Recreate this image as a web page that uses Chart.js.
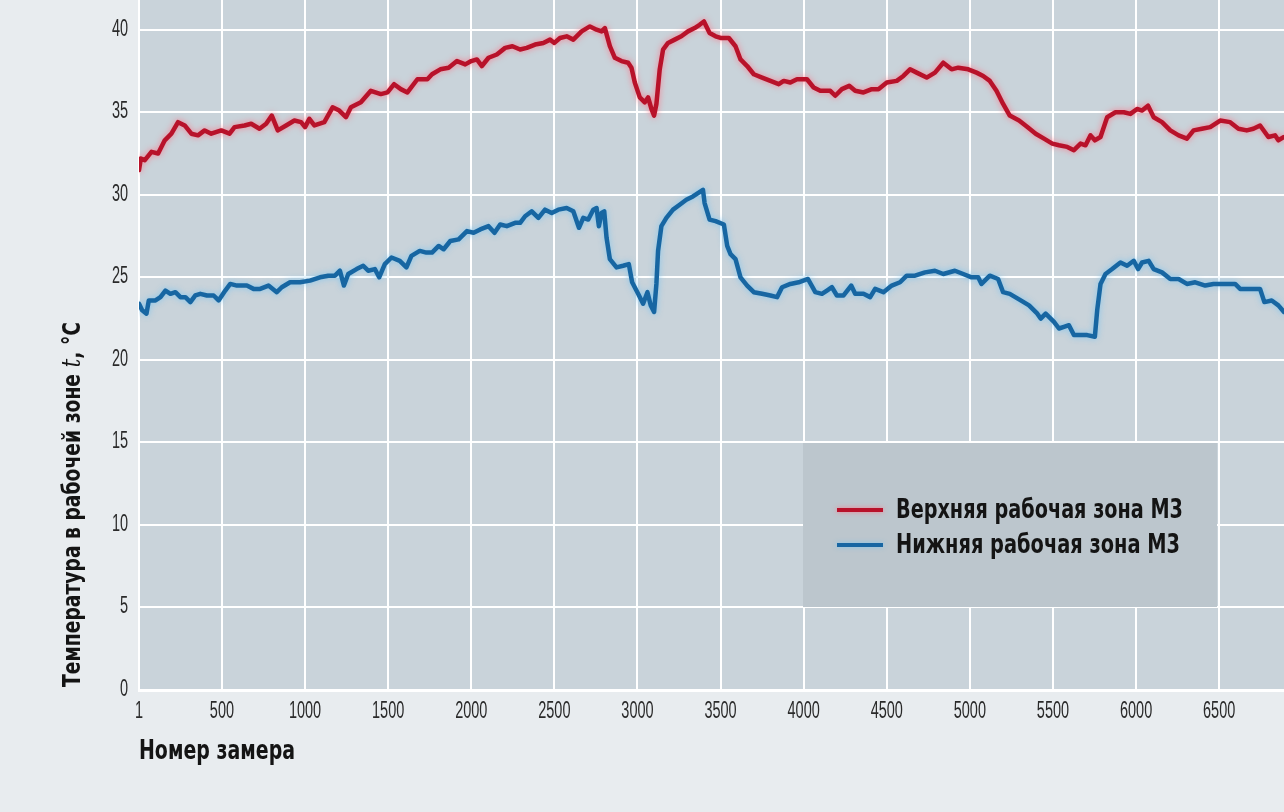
<!DOCTYPE html>
<html>
<head>
<meta charset="utf-8">
<script src="https://cdn.jsdelivr.net/npm/chart.js@4.4.1/dist/chart.umd.min.js"></script>
<style>
html,body{margin:0;padding:0;background:#e8ecef;}
canvas{display:block;}
</style>
</head>
<body>
<canvas id="c" width="1284" height="812"></canvas>
<script>
// ---- DATA ----
const seriesNames = ["Верхняя рабочая зона М3", "Нижняя рабочая зона М3"];
const xTickValues = [1, 500, 1000, 1500, 2000, 2500, 3000, 3500, 4000, 4500, 5000, 5500, 6000, 6500];
const yTickValues = [0, 5, 10, 15, 20, 25, 30, 35, 40];
const xAxisTitle = "Номер замера";
const yAxisTitleParts = ["Температура в рабочей зоне ", "t", ", °C"];

const upperX = [1,12,36,76,116,156,196,236,276,316,356,396,436,496,546,576,636,676,726,766,800,836,886,936,976,1000,1026,1056,1116,1166,1206,1246,1276,1336,1396,1456,1496,1536,1576,1616,1676,1736,1764,1814,1864,1914,1964,2000,2034,2064,2104,2154,2204,2248,2294,2334,2384,2434,2474,2500,2534,2574,2614,2664,2714,2754,2784,2804,2834,2864,2904,2944,2964,2984,3014,3044,3064,3084,3100,3114,3134,3154,3184,3224,3264,3304,3344,3374,3400,3434,3470,3500,3550,3590,3620,3660,3700,3750,3800,3850,3880,3920,3960,4020,4060,4100,4160,4190,4230,4274,4310,4360,4410,4450,4500,4560,4600,4640,4680,4740,4790,4840,4890,4930,4990,5040,5080,5120,5160,5200,5240,5296,5346,5396,5446,5496,5536,5586,5626,5666,5696,5726,5752,5786,5826,5876,5926,5966,6006,6036,6072,6106,6156,6206,6256,6306,6346,6396,6446,6506,6566,6616,6666,6706,6746,6796,6836,6856,6890];
const upperY = [31.5,32.2,32.1,32.6,32.5,33.3,33.7,34.4,34.2,33.7,33.6,33.9,33.7,33.9,33.7,34.1,34.2,34.3,34.0,34.3,34.8,33.9,34.2,34.5,34.4,34.1,34.6,34.2,34.4,35.3,35.1,34.7,35.3,35.6,36.3,36.1,36.2,36.7,36.4,36.2,37.0,37.0,37.3,37.6,37.7,38.1,37.9,38.1,38.2,37.8,38.3,38.5,38.9,39.0,38.8,38.9,39.1,39.2,39.4,39.2,39.5,39.6,39.4,39.9,40.2,40.0,39.9,40.1,39.0,38.3,38.1,38.0,37.7,36.8,35.9,35.6,35.9,35.2,34.8,35.5,37.6,38.8,39.2,39.4,39.6,39.9,40.1,40.3,40.5,39.8,39.6,39.5,39.5,39.0,38.2,37.8,37.3,37.1,36.9,36.7,36.9,36.8,37.0,37.0,36.5,36.3,36.3,36.0,36.4,36.6,36.3,36.2,36.4,36.4,36.8,36.9,37.2,37.6,37.4,37.1,37.4,38.0,37.6,37.7,37.6,37.4,37.2,36.9,36.3,35.5,34.8,34.5,34.1,33.7,33.4,33.1,33.0,32.9,32.7,33.1,33.0,33.6,33.3,33.5,34.7,35.0,35.0,34.9,35.2,35.1,35.4,34.7,34.4,33.9,33.6,33.4,33.9,34.0,34.1,34.5,34.4,34.0,33.9,34.0,34.2,33.5,33.6,33.3,33.5];

const lowerX = [1,20,46,60,100,130,160,190,220,250,280,310,340,370,410,450,480,520,550,590,650,690,730,780,830,860,910,970,1030,1090,1140,1180,1210,1234,1260,1310,1350,1380,1420,1446,1480,1520,1570,1610,1640,1690,1730,1764,1804,1834,1874,1924,1974,2014,2054,2104,2140,2174,2214,2264,2294,2324,2364,2404,2444,2484,2524,2574,2614,2648,2674,2704,2734,2754,2768,2784,2800,2814,2834,2874,2914,2948,2968,3004,3034,3060,3080,3100,3114,3124,3144,3174,3214,3254,3294,3334,3364,3394,3404,3434,3470,3520,3540,3560,3590,3620,3660,3700,3750,3800,3840,3870,3920,3970,4026,4070,4110,4140,4170,4200,4240,4286,4310,4360,4400,4430,4480,4530,4580,4620,4670,4730,4790,4840,4910,4960,5010,5050,5070,5120,5170,5200,5240,5306,5356,5406,5426,5456,5506,5536,5566,5596,5626,5666,5706,5752,5766,5786,5816,5856,5906,5946,5986,6012,6036,6076,6106,6156,6206,6256,6306,6356,6416,6466,6536,6596,6626,6686,6746,6772,6816,6856,6890];
const lowerY = [23.4,23.0,22.8,23.6,23.6,23.8,24.2,24.0,24.1,23.8,23.8,23.5,23.9,24.0,23.9,23.9,23.6,24.2,24.6,24.5,24.5,24.3,24.3,24.5,24.1,24.4,24.7,24.7,24.8,25.0,25.1,25.1,25.4,24.5,25.2,25.5,25.7,25.4,25.5,25.0,25.8,26.2,26.0,25.6,26.3,26.6,26.5,26.5,26.9,26.7,27.2,27.3,27.8,27.7,27.9,28.1,27.7,28.2,28.1,28.3,28.3,28.7,29.0,28.6,29.1,28.9,29.1,29.2,29.0,28.0,28.6,28.5,29.1,29.2,28.1,28.9,29.0,27.4,26.1,25.6,25.7,25.8,24.7,24.0,23.4,24.1,23.3,22.9,24.6,26.6,28.1,28.6,29.1,29.4,29.7,29.9,30.1,30.3,29.5,28.5,28.4,28.2,26.9,26.4,26.1,25.0,24.5,24.1,24.0,23.9,23.8,24.4,24.6,24.7,24.9,24.1,24.0,24.2,24.4,23.9,23.9,24.5,24.0,24.0,23.8,24.3,24.1,24.5,24.7,25.1,25.1,25.3,25.4,25.2,25.4,25.2,25.0,25.0,24.6,25.1,24.9,24.1,24.0,23.6,23.3,22.8,22.5,22.8,22.3,21.9,22.0,22.1,21.5,21.5,21.5,21.4,23.0,24.6,25.2,25.5,25.9,25.7,26.0,25.5,25.9,26.0,25.5,25.3,24.9,24.9,24.6,24.7,24.5,24.6,24.6,24.6,24.3,24.3,24.3,23.5,23.6,23.3,22.9];

// ---- STYLE ----
const RED = '#b8122a', RED_GLOW = 'rgba(255,110,130,0.8)';
const BLUE = '#1766a2', BLUE_GLOW = 'rgba(120,195,240,0.85)';
const PLOT_BG = '#c9d3da', PAGE_BG = '#e8ecef', LEGEND_BG = '#bcc6cd';
const NARROW = '"Liberation Sans Narrow","DejaVu Sans Condensed","Roboto Condensed","Liberation Sans",sans-serif';
const TICK_FONT = '23px "Liberation Sans",Arial,sans-serif';
const TICK_SQUEEZE = 0.63;

function toPoints(xs, ys){ return xs.map((x,i)=>({x:x, y:ys[i]})); }

function fitText(ctx, text, x, y, targetW){
  const w = ctx.measureText(text).width;
  const s = targetW / w;
  ctx.save(); ctx.translate(x, y); ctx.scale(s, 1); ctx.fillText(text, 0, 0); ctx.restore();
}
function squeezeText(ctx, text, x, y, s, align){
  const w = ctx.measureText(text).width * s;
  let x0 = x;
  if (align === 'center') x0 = x - w/2; else if (align === 'right') x0 = x - w;
  ctx.save(); ctx.translate(x0, y); ctx.scale(s, 1); ctx.textAlign = 'left'; ctx.fillText(text, 0, 0); ctx.restore();
}

const decor = {
  id: 'decor',
  beforeDraw(chart){
    const {ctx, chartArea:a} = chart;
    ctx.save();
    ctx.fillStyle = PAGE_BG; ctx.fillRect(0,0,chart.width,chart.height);
    ctx.fillStyle = PLOT_BG; ctx.fillRect(a.left, a.top, a.right-a.left, a.bottom-a.top);
    ctx.restore();
  },
  beforeDatasetDraw(chart, args){
    const ctx = chart.ctx;
    ctx.save();
    ctx.shadowColor = args.index === 0 ? RED_GLOW : BLUE_GLOW;
    ctx.shadowBlur = 6;
  },
  afterDatasetDraw(chart){ chart.ctx.restore(); },
  afterDatasetsDraw(chart){
    const ctx = chart.ctx;
    ctx.save();
    ctx.fillStyle = LEGEND_BG;
    ctx.fillRect(803, 443, 414, 164);
    const rows = [{c:RED,g:RED_GLOW,y:510},{c:BLUE,g:BLUE_GLOW,y:545}];
    chart.data.datasets.forEach((ds,i)=>{
      const r = rows[i];
      ctx.save();
      ctx.shadowColor = r.g; ctx.shadowBlur = 5;
      ctx.strokeStyle = r.c; ctx.lineWidth = 4; ctx.lineCap = 'butt';
      ctx.beginPath(); ctx.moveTo(837, r.y); ctx.lineTo(883, r.y); ctx.stroke();
      ctx.restore();
      ctx.fillStyle = '#141414';
      ctx.font = 'bold 27px ' + NARROW;
      ctx.textBaseline = 'middle'; ctx.textAlign = 'left';
      fitText(ctx, ds.label, 896, r.y + 1, i === 0 ? 287 : 284);
    });
    ctx.restore();
  },
  afterDraw(chart){
    const ctx = chart.ctx;
    ctx.save();
    ctx.fillStyle = '#2a2a2a';
    ctx.font = TICK_FONT;
    ctx.textBaseline = 'middle';
    const xs = chart.scales.x, ys = chart.scales.y;
    xs.ticks.forEach(t => { squeezeText(ctx, String(t.value), xs.getPixelForValue(t.value), 712, TICK_SQUEEZE, 'center'); });
    ys.ticks.forEach(t => { squeezeText(ctx, String(t.value), 128, ys.getPixelForValue(t.value) - 0.5, TICK_SQUEEZE, 'right'); });
    ctx.restore();

    ctx.save();
    ctx.fillStyle = '#141414';
    ctx.textBaseline = 'middle'; ctx.textAlign = 'left';
    ctx.font = 'bold 26px ' + NARROW;
    fitText(ctx, xAxisTitle, 139, 752, 156);
    ctx.translate(73, 687);
    ctx.rotate(-Math.PI/2);
    const fonts = ['bold 25px ' + NARROW, 'italic 26px "DejaVu Serif","Liberation Serif",serif', 'bold 25px ' + NARROW];
    let total = 0; const widths = [];
    yAxisTitleParts.forEach((p,i)=>{ ctx.font = fonts[i]; const w = ctx.measureText(p).width; widths.push(w); total += w; });
    const s = 365 / total;
    ctx.scale(s, 1);
    let x = 0;
    yAxisTitleParts.forEach((p,i)=>{ ctx.font = fonts[i]; ctx.fillText(p, x, 0); x += widths[i]; });
    ctx.restore();
  }
};

new Chart(document.getElementById('c'), {
  type: 'line',
  data: {
    datasets: [
      { label: seriesNames[0], data: toPoints(upperX, upperY), borderColor: RED, borderWidth: 4.5, pointRadius: 0, tension: 0, fill: false, borderJoinStyle: 'round', borderCapStyle: 'round' },
      { label: seriesNames[1], data: toPoints(lowerX, lowerY), borderColor: BLUE, borderWidth: 4.5, pointRadius: 0, tension: 0, fill: false, borderJoinStyle: 'round', borderCapStyle: 'round' }
    ]
  },
  options: {
    responsive: false,
    animation: false,
    devicePixelRatio: 1,
    layout: { padding: 0 },
    plugins: { legend: { display: false }, tooltip: { enabled: false } },
    scales: {
      x: {
        type: 'linear', min: 1, max: 6890,
        afterBuildTicks: (s) => { s.ticks = xTickValues.map(v => ({ value: v })); },
        afterFit: (s) => { s.height = 122; s.paddingLeft = 0; s.paddingRight = 0; s.paddingTop = 0; s.paddingBottom = 0; },
        grid: { color: '#ffffff', lineWidth: 2, drawTicks: false },
        border: { display: true, color: '#ffffff', width: 3 },
        ticks: { display: false }
      },
      y: {
        min: 0, max: 41.8,
        afterBuildTicks: (s) => { s.ticks = yTickValues.map(v => ({ value: v })); },
        afterFit: (s) => { s.width = 139; s.paddingTop = 0; s.paddingBottom = 0; s.paddingLeft = 0; s.paddingRight = 0; },
        grid: { color: '#ffffff', lineWidth: 2, drawTicks: false },
        border: { display: true, color: '#ffffff', width: 2 },
        ticks: { display: false }
      }
    }
  },
  plugins: [decor]
});
</script>
</body>
</html>
